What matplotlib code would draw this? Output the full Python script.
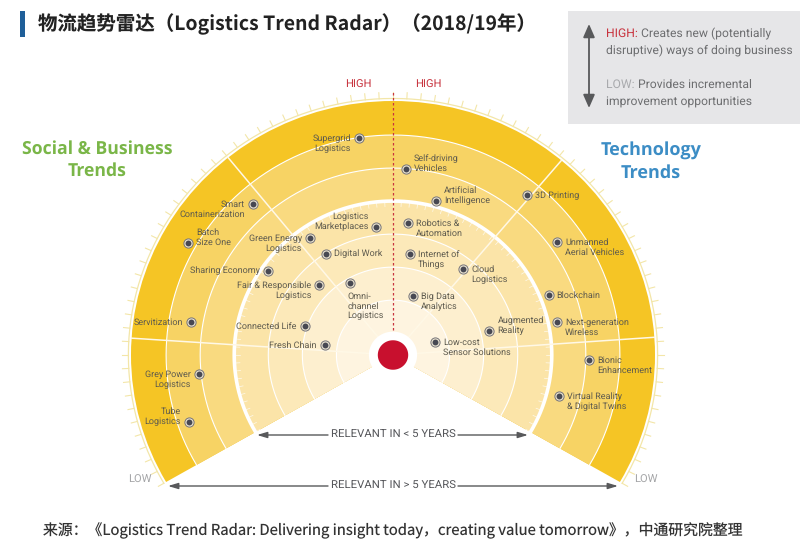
"""Logistics Trend Radar, drawn on a polar axes stretched to the reference ellipse."""

import matplotlib
matplotlib.use("Agg")  # Non-interactive backend
import matplotlib.pyplot as plt
import numpy as np

plt.rcParams["text.hinting"] = "none"

W, H = 800, 554
CX, CY = 393.0, 355.0   # radar centre, pixels
RX, RY = 262.0, 254.0   # radar outer radius, pixels
RMAX = 1.06

SANS = "Roboto"
CJK = ["Noto Sans CJK SC", "DejaVu Sans"]

# Angle is degrees clockwise from the top, radius is 0 (centre) to 1 (outer rim)
trend_names = [
    "Supergrid\nLogistics", "Smart\nContainerization", "Batch\nSize One",
    "Green Energy\nLogistics", "Logistics\nMarketplaces", "Digital Work",
    "Sharing Economy", "Fair & Responsible\nLogistics", "Omni-\nchannel\nLogistics",
    "Servitization", "Connected Life", "Fresh Chain",
    "Grey Power\nLogistics", "Tube\nLogistics",
    "Self-driving\nVehicles", "Artificial\nIntelligence", "3D Printing",
    "Robotics &\nAutomation", "Internet of\nThings", "Cloud\nLogistics",
    "Unmanned\nAerial Vehicles", "Blockchain", "Big Data\nAnalytics",
    "Next-generation\nWireless", "Augmented\nReality", "Low-cost\nSensor Solutions",
    "Bionic\nEnhancement", "Virtual Reality\n& Digital Twins",
]
trend_angle = [
    -8.7, -41.9, -60.6, -34.6, -7.2, -32.7, -55.3, -45.5, -30.0, -80.5, -71.3, -81.7,
    -95.8, -108.7, 3.8, 15.1, 39.2, 6.4, 9.1, 38.3, 54.5, 68.3, 18.0, 78.2, 75.7,
    72.3, 91.6, 104.4,
]
trend_radius = [
    0.864, 0.800, 0.898, 0.560, 0.508, 0.473, 0.581, 0.394, 0.327, 0.782, 0.356, 0.263,
    0.744, 0.823, 0.734, 0.629, 0.811, 0.524, 0.403, 0.432, 0.769, 0.639, 0.243, 0.640,
    0.380, 0.168, 0.748, 0.655,
]
# Which line of the label sits level with the dot
label_line = [0, 0, 1, 0, 1, 0, 0, 0, 0, 0, 0, 0, 0, 1, 1, 1, 0, 0, 0, 0, 0, 0, 0, 0, 1, 0, 0, 0]

ring_radius = [1.0, 0.866, 0.736, 0.606, 0.476, 0.346, 0.216]
ring_colors = ["#F5C525", "#F7D364", "#F9DA80", "#FBE4A8", "#FCE9B9", "#FDEFCF", "#FEF4E0"]
divider_angle = [-86.2, -39.0, 40.0, 86.0]
SWEEP = 120.0


def _polar(fig):
    """Polar axes whose data radius 1 lands on the reference ellipse."""
    ax = fig.add_axes(
        [(CX - RX * RMAX) / W, 1 - (CY + RY * RMAX) / H, 2 * RX * RMAX / W, 2 * RY * RMAX / H],
        projection="polar",
    )
    ax.set_theta_zero_location("N")
    ax.set_theta_direction(-1)
    ax.set_aspect("auto")
    ax.set_ylim(0, RMAX)
    ax.axis("off")
    ax.patch.set_alpha(0)
    return ax


def _draw_radar(ax):
    width = np.radians(2 * SWEEP)
    for r, color in zip(ring_radius, ring_colors):
        ax.bar(0, r, width=width, bottom=0, color=color, linewidth=0, zorder=1)

    arc = np.radians(np.linspace(-SWEEP, SWEEP, 241))
    for r in ring_radius[1:]:
        lw = 2.6 if r == 0.606 else 0.8
        ax.plot(arc, np.full_like(arc, r), color="white", lw=lw, zorder=2)
    for a in divider_angle:
        ax.plot(np.radians([a, a]), [0.0, 1.0], color="#FFF8E6", lw=1.1, zorder=2)

    # Pale rim with its ticks, and the small white ticks on the thick ring
    ax.plot(arc, np.full_like(arc, 1.01), color="#F3E6A8", lw=0.9, zorder=2)
    for a in np.arange(-SWEEP, SWEEP + 0.1, 3.0):
        t = np.radians(a)
        ax.plot([t, t], [1.01, 1.034], color="#F3E6A8", lw=0.8, zorder=2)
        ax.plot([t, t], [0.585, 0.606], color="white", lw=0.5, alpha=0.8, zorder=2)

    ax.plot([0, 0], [0.1, 1.04], color="#C8343F", lw=0.9, ls=(0, (2, 2)), zorder=3)

    hub = np.radians(np.linspace(0, 360, 181))
    ax.fill(hub, np.full_like(hub, 0.092), color="white", lw=0, zorder=4)
    ax.fill(hub, np.full_like(hub, 0.058), color="#C8102E", lw=0, zorder=5)


def _draw_trends(ax):
    theta = np.radians(trend_angle)
    ax.scatter(theta, trend_radius, s=44, facecolor="#E9E2D0", edgecolor="#77757A", linewidth=0.7, zorder=6)
    ax.scatter(theta, trend_radius, s=18, color="#474852", linewidth=0, zorder=7)

    line_h = 11.0
    for name, a, r, line in zip(trend_names, trend_angle, trend_radius, label_line):
        n = name.count("\n") + 1
        left = a > 0 or name.startswith(("Batch", "Digital"))
        dx = 8.0 if left else -8.0
        dy = (line - (n - 1) / 2) * line_h
        if name.startswith("Omni"):
            dx, dy = -3.0, -23.0
            left = True
        ax.annotate(
            name, (np.radians(a), r), xytext=(dx * 0.72, dy * 0.72), textcoords="offset points",
            ha="left" if left else "right", va="center", ma="left" if left else "right",
            fontsize=6.5, family=SANS, color="#5D5A4E", linespacing=1.22, zorder=8,
        )


def _draw_overlay(ax):
    ax.set_xlim(0, W)
    ax.set_ylim(H, 0)
    ax.axis("off")
    ax.patch.set_alpha(0)

    ax.add_patch(plt.Rectangle((20, 11), 5, 26, color="#1F5F99", lw=0))
    ax.text(38, 24, "物流趋势雷达（Logistics Trend Radar）（2018/19年）", family=CJK, fontsize=14.0,
            weight="bold", color="#222222", va="center")
    ax.text(43, 531, "来源：《Logistics Trend Radar: Delivering insight today，creating value tomorrow》，中通研究院整理",
            family=CJK, fontsize=10.7, color="#333333", va="center")

    # Legend box in the top right corner
    ax.add_patch(plt.Rectangle((568, 11), 232, 113, color="#E6E6E8", lw=0))
    ax.annotate("", xy=(589, 24), xytext=(589, 108),
                arrowprops=dict(arrowstyle="<|-|>,head_width=0.35,head_length=0.8", color="#58595B", lw=1.3,
                                shrinkA=0, shrinkB=0))
    box_rows = [
        (37, "HIGH:", "#C8343F", " Creates new (potentially"),
        (54, "", "#6D6E70", "disruptive) ways of doing business"),
        (88, "LOW:", "#A9AAAD", " Provides incremental"),
        (106, "", "#6D6E70", "improvement opportunities"),
    ]
    box_font = dict(family=SANS, fontsize=8.7, va="baseline")
    for y, head, color, rest in box_rows:
        if head:
            first = ax.text(606, y, head, color=color, **box_font)
            ax.annotate(rest, xy=(1, y), xycoords=(first, "data"), color="#6D6E70", **box_font)
        else:
            ax.text(606, y, rest, color="#6D6E70", **box_font)

    ax.text(97, 160, "Social & Business\nTrends", family="Open Sans", weight="bold", fontsize=12.7,
            color="#7AB648", ha="center", va="center", linespacing=1.3)
    ax.text(651, 162.5, "Technology\nTrends", family="Open Sans", weight="bold", fontsize=13,
            color="#3C8DC5", ha="center", va="center", linespacing=1.3)

    for x in (358, 428):
        ax.text(x, 85, "HIGH", family=SANS, fontsize=8, color="#C8343F", ha="center", va="center")
    for x in (140, 646):
        ax.text(x, 480, "LOW", family=SANS, fontsize=8, color="#A5A6A8", ha="center", va="center")

    for y, label, left_end, right_end in (
        (435, "RELEVANT IN < 5 YEARS", 257, 528),
        (486, "RELEVANT IN > 5 YEARS", 168, 618),
    ):
        ax.text(393.5, y, label, family=SANS, fontsize=8.2, color="#55565A", ha="center", va="center")
        for start, end in ((328, left_end), (458, right_end)):
            ax.annotate("", xy=(end, y), xytext=(start, y),
                        arrowprops=dict(arrowstyle="-|>,head_width=0.18,head_length=0.6", color="#58595B", lw=1.0,
                                        shrinkA=0, shrinkB=0))


def main():
    fig = plt.figure(figsize=(W / 100, H / 100), dpi=100, facecolor="white")
    ax = _polar(fig)
    _draw_radar(ax)
    _draw_trends(ax)
    _draw_overlay(fig.add_axes([0, 0, 1, 1], zorder=10))
    fig.savefig("out.png", dpi=100)
    plt.close(fig)


if __name__ == "__main__":
    main()
